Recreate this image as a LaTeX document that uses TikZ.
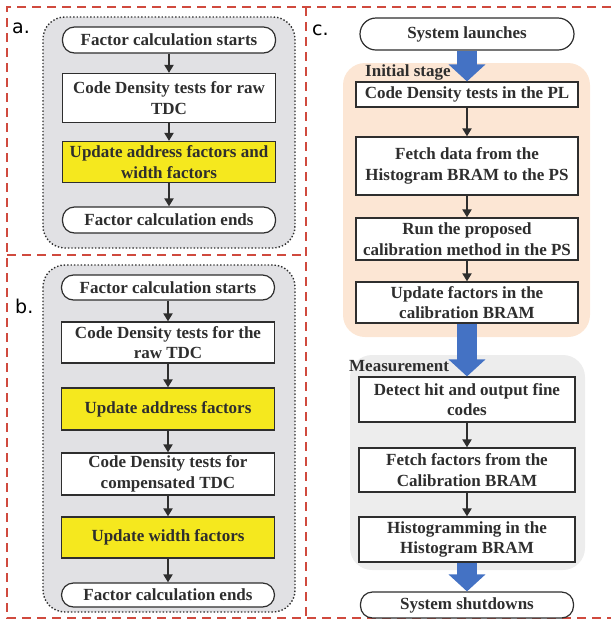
\documentclass[tikz,border=0pt]{standalone}
\usepackage{fontspec}
\setmainfont{Liberation Serif}
\setsansfont{DejaVu Sans}
\usetikzlibrary{arrows.meta}

\definecolor{txtgray}{HTML}{2E2E2E}
\definecolor{boxgray}{HTML}{E1E1E4}
\definecolor{peach}{HTML}{FCE6D4}
\definecolor{lightgray}{HTML}{EDEDED}
\definecolor{flowblue}{HTML}{4472C4}
\definecolor{dashred}{HTML}{D04A3E}
\definecolor{hiyellow}{HTML}{F5E81E}

\begin{document}
\begin{tikzpicture}[x=1pt, y=-1pt,
    every node/.style={text=txtgray, font=\fontsize{17}{20.5}\selectfont\bfseries},
    stepbox/.style={draw=txtgray, line width=1.2pt, fill=white, align=center, inner sep=0pt, minimum width=213pt},
    hibox/.style={stepbox, fill=hiyellow},
    endbox/.style={stepbox, rounded corners=12pt},
    flow/.style={draw=txtgray, line width=1.8pt, -{Triangle[length=8pt,width=9pt]}},
    bigflow/.style={draw=flowblue, line width=20pt, -{Triangle[length=17pt,width=36pt]}},
    panel/.style={draw=dashred, line width=1.6pt, dash pattern=on 9pt off 6pt},
    groupbox/.style={fill=boxgray, draw=txtgray, line width=1.4pt, dotted, rounded corners=22pt},
    tag/.style={font=\sffamily\fontsize{19}{19}\selectfont, text=black, inner sep=0pt}]
        \useasboundingbox (0,0) rectangle (611,625);
        % Draw the outlines.
        \draw[panel] (611,7) -- (7,7) -- (7,618) -- (611,618);
        \draw[panel] (306,7) -- (306,618);
        \draw[panel] (7,255) -- (306,255);
        \draw[groupbox] (43,17) rectangle (295,248);
        \draw[groupbox] (43,265) rectangle (295,612);
        \fill[peach, rounded corners=22pt] (343,63) rectangle (590,337);
        \fill[lightgray, rounded corners=22pt] (350,355) rectangle (585,570);
        % Specify the panel tags.
        \node[tag, anchor=base west] (taga) at (12,33) {a.};
        \node[tag, anchor=base west] (tagb) at (15,313) {b.};
        \node[tag, anchor=base west] (tagc) at (312,35) {c.};
        % Specify panel a.
        \node[endbox, minimum height=26pt] (astart) at (169,40) {Factor calculation starts};
        \node[stepbox, minimum height=49pt] (araw) at (169,98) {Code Density tests for raw\\TDC};
        \node[hibox, minimum height=41pt] (aupd) at (169,162) {Update address factors and\\width factors};
        \node[endbox, minimum height=26pt] (aend) at (169,220) {Factor calculation ends};
        \draw[flow] (astart) -- (araw);
        \draw[flow] (araw) -- (aupd);
        \draw[flow] (aupd) -- (aend);
        % Specify panel b.
        \node[endbox, minimum height=25pt] (bstart) at (168,287.5) {Factor calculation starts};
        \node[stepbox, minimum height=41pt] (braw) at (168,342.5) {Code Density tests for the\\raw TDC};
        \node[hibox, minimum height=42pt] (baddr) at (168,409) {Update address factors};
        \node[stepbox, minimum height=42pt] (bcomp) at (168,474) {Code Density tests for\\compensated TDC};
        \node[hibox, minimum height=41pt] (bwidth) at (168,537.5) {Update width factors};
        \node[endbox, minimum height=24pt] (bend) at (168,595) {Factor calculation ends};
        \draw[flow] (bstart) -- (braw);
        \draw[flow] (braw) -- (baddr);
        \draw[flow] (baddr) -- (bcomp);
        \draw[flow] (bcomp) -- (bwidth);
        \draw[flow] (bwidth) -- (bend);
        % Specify panel c, initial stage.
        \node[endbox, minimum width=214pt, minimum height=32pt, rounded corners=16pt] (launch) at (467,34) {System launches};
        \node[anchor=base west, inner sep=0pt] (initlbl) at (365,76) {Initial stage};
        \node[stepbox, minimum width=222pt, minimum height=25pt] (cdpl) at (467,94.5) {Code Density tests in the PL};
        \node[stepbox, minimum width=222pt, minimum height=58pt] (fetch) at (467,166) {Fetch data from the\\Histogram BRAM to the PS};
        \node[stepbox, minimum width=222pt, minimum height=42pt] (run) at (467,239) {Run the proposed\\calibration method in the PS};
        \node[stepbox, minimum width=222pt, minimum height=41pt] (updc) at (467,302.5) {Update factors in the\\calibration BRAM};
        \draw[flow] (cdpl) -- (fetch);
        \draw[flow] (fetch) -- (run);
        \draw[flow] (run) -- (updc);
        % Specify panel c, measurement.
        \node[anchor=base west, inner sep=0pt] (measlbl) at (349,371) {Measurement};
        \node[stepbox, minimum width=216pt, minimum height=45pt] (detect) at (467,399.5) {Detect hit and output fine\\codes};
        \node[stepbox, minimum width=216pt, minimum height=44pt] (fetchf) at (467,470) {Fetch factors from the\\Calibration BRAM};
        \node[stepbox, minimum width=216pt, minimum height=45pt] (histo) at (467,539.5) {Histogramming in the\\Histogram BRAM};
        \node[endbox, minimum width=213pt, minimum height=26pt] (shut) at (467,605) {System shutdowns};
        \draw[flow] (detect) -- (fetchf);
        \draw[flow] (fetchf) -- (histo);
        % Draw the stage arrows.
        \draw[bigflow] (launch.south) -- (cdpl.north);
        \draw[bigflow] (updc.south) -- (detect.north);
        \draw[bigflow] (histo.south) -- (shut.north);
    \end{tikzpicture}
\end{document}
